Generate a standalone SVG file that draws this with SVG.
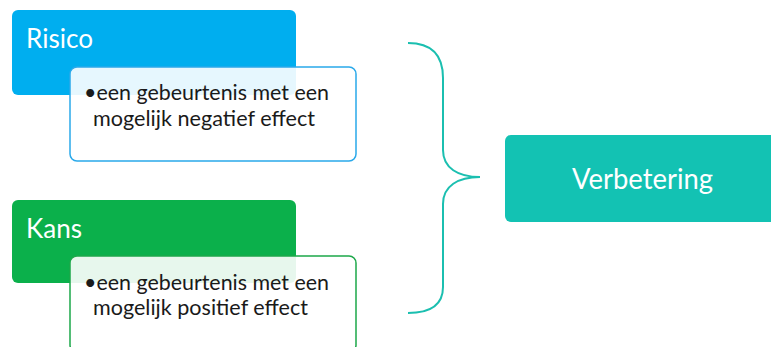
<svg xmlns="http://www.w3.org/2000/svg" width="771" height="347" viewBox="0 0 771 347">
<style>
.title{font-family:Lato,"Noto Sans","Liberation Sans",sans-serif;fill:#fff;}
.desc{font-family:Lato,"Noto Sans","Liberation Sans",sans-serif;font-size:21px;fill:#1a1a1a;}
.card{fill:#fff;fill-opacity:0.9;stroke-width:1.5;}
</style>
<rect width="771" height="347" fill="#fff"/>
<g id="risico">
<rect x="12" y="10" width="284" height="85" rx="6" fill="#00AEEF"/>
<text class="title" x="26" y="48" font-size="26" textLength="67" lengthAdjust="spacingAndGlyphs">Risico</text>
<rect class="card" x="70" y="67" width="286" height="94" rx="7" stroke="#2AA9EA"/>
<text class="desc" x="84" y="100" textLength="245" lengthAdjust="spacingAndGlyphs">•een gebeurtenis met een</text>
<text class="desc" x="93" y="126" textLength="222" lengthAdjust="spacingAndGlyphs">mogelijk negatief effect</text>
</g>
<g id="kans">
<rect x="12" y="200" width="284" height="83" rx="6" fill="#0BB04B"/>
<text class="title" x="26" y="238" font-size="26" textLength="56" lengthAdjust="spacingAndGlyphs">Kans</text>
<rect class="card" x="70" y="256" width="286" height="96" rx="7" stroke="#1DA84A"/>
<text class="desc" x="84" y="290" textLength="245" lengthAdjust="spacingAndGlyphs">•een gebeurtenis met een</text>
<text class="desc" x="93" y="315" textLength="215" lengthAdjust="spacingAndGlyphs">mogelijk positief effect</text>
</g>
<g id="connectors">
<path d="M408 43 C430 43 443 53 443 78 L443 150 C443 168 458 177 480 177 C458 177 443 186 443 204 L443 287 C443 305 430 313 408 313" fill="none" stroke="#1BBFB0" stroke-width="2"/>
</g>
<g id="verbetering">
<rect x="505" y="135" width="280" height="87" rx="6" fill="#13C2B3"/>
<text class="title" x="572" y="189" font-size="28" textLength="141" lengthAdjust="spacingAndGlyphs">Verbetering</text>
</g>
</svg>
